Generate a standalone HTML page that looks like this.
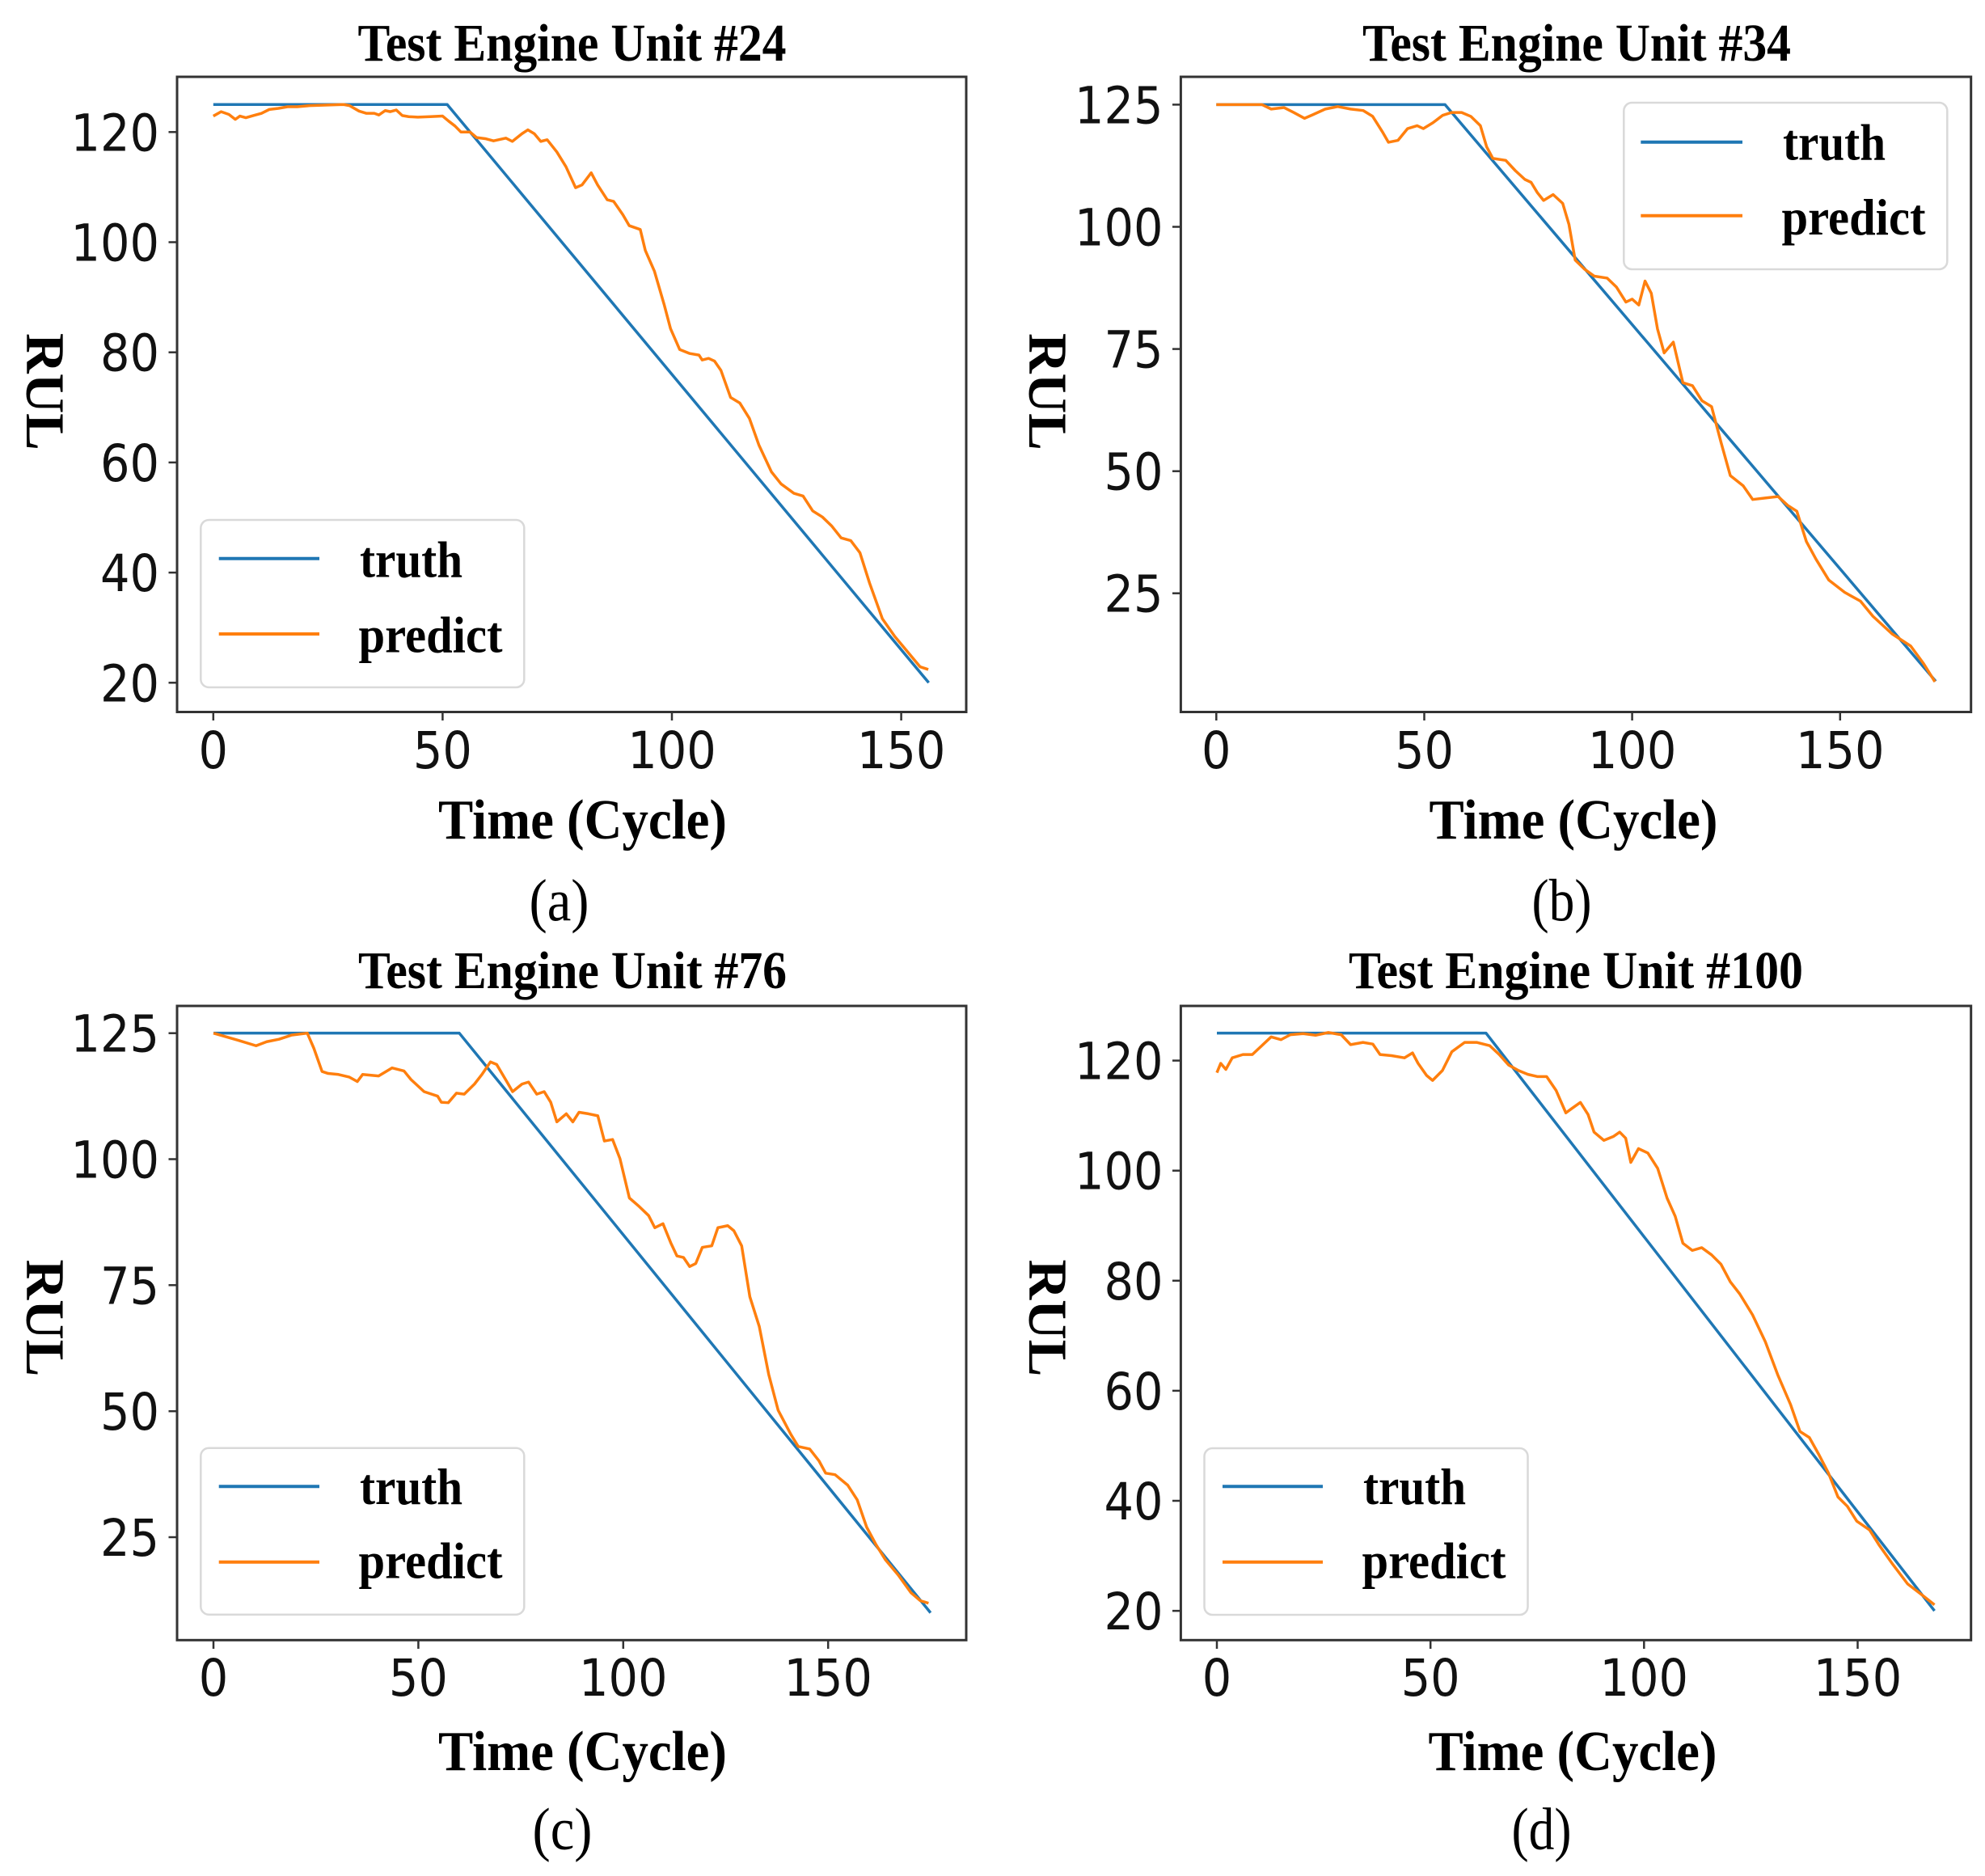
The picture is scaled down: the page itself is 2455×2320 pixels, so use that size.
<!DOCTYPE html>
<html>
<head>
<meta charset="utf-8">
<style>
html,body{margin:0;padding:0;background:#fff;}
svg{display:block;}
.tk{font-family:"DejaVu Sans","Liberation Sans",sans-serif;font-size:63px;fill:#111;}
.tt{font-family:"Liberation Serif",serif;font-weight:bold;font-size:66px;fill:#000;}
.xl{font-family:"Liberation Serif",serif;font-weight:bold;font-size:70px;fill:#000;}
.yl{font-family:"Liberation Serif",serif;font-weight:bold;font-size:68px;fill:#000;}
.sub{font-family:"Liberation Serif",serif;font-size:74px;fill:#000;}
.lg{font-family:"Liberation Serif",serif;font-weight:bold;font-size:64px;fill:#000;}
.sp{fill:none;stroke:#333;stroke-width:3;}
.tick{stroke:#333;stroke-width:2.5;}
.tr{fill:none;stroke:#1f77b4;stroke-width:3.5;stroke-linejoin:round;}
.pr{fill:none;stroke:#ff7f0e;stroke-width:3.5;stroke-linejoin:round;}
.leg{fill:#fff;stroke:#d9d9d9;stroke-width:2.5;}
</style>
</head>
<body>
<svg width="2455" height="2320" viewBox="0 0 2455 2320" xmlns="http://www.w3.org/2000/svg">

<!-- ================= Panel (a) ================= -->
<text class="tt" x="707.5" y="75" text-anchor="middle" textLength="530" lengthAdjust="spacingAndGlyphs">Test Engine Unit #24</text>
<g transform="matrix(5.672 0 0 -6.81 263.8 980.5)">
<polyline class="tr" vector-effect="non-scaling-stroke" points="0,125 51,125 156,20"/>
<polyline class="pr" vector-effect="non-scaling-stroke" points="0,122.9 1.7,123.7 3.4,123.2 4.8,122.3 5.8,122.9 7.1,122.6 8.8,123 10.5,123.4 12.2,124.1 14.2,124.3 16.2,124.6 18.3,124.6 21,124.8 25,124.9 28.4,125 29.7,124.8 31.8,123.8 33.4,123.4 35.1,123.4 36.1,123.1 37.5,123.9 38.6,123.7 39.9,124 41.2,123 42.6,122.8 44.6,122.7 47.3,122.8 50,122.9 51.3,122 52.7,121.1 54,120 56,120 57.4,119 59.3,118.8 61.1,118.4 63.8,118.9 65.2,118.3 67.3,119.7 68.6,120.4 70,119.7 71.4,118.3 72.8,118.6 74.9,116.4 76.9,113.7 79,109.9 80.4,110.4 82.4,112.6 83.8,110.4 85.9,107.7 87.3,107.4 89.3,105 90.7,103 93.1,102.3 94.2,98.5 96.2,94.7 98.3,88.7 99.7,84.3 101.7,80.5 103.8,79.8 105.9,79.5 106.6,78.6 108,78.9 109.3,78.4 110.7,76.7 112.8,71.8 114.8,70.8 116.9,68 119,63.1 121.7,58.3 123.8,56.1 126.6,54.4 128.6,53.9 130.7,51.2 132.8,50.1 134.8,48.5 136.9,46.3 139,45.8 141,43.6 143.1,38.1 145.9,31.6 148.6,28.4 151.4,25.6 154.1,22.9 155.9,22.4"/>
</g>
<rect class="sp" x="219" y="95" width="976" height="785.5"/>
<g class="tick">
<line x1="263.8" y1="880.5" x2="263.8" y2="891"/><line x1="547.4" y1="880.5" x2="547.4" y2="891"/><line x1="831" y1="880.5" x2="831" y2="891"/><line x1="1114.6" y1="880.5" x2="1114.6" y2="891"/>
<line x1="208.5" y1="844.3" x2="219" y2="844.3"/><line x1="208.5" y1="708.1" x2="219" y2="708.1"/><line x1="208.5" y1="571.9" x2="219" y2="571.9"/><line x1="208.5" y1="435.7" x2="219" y2="435.7"/><line x1="208.5" y1="299.5" x2="219" y2="299.5"/><line x1="208.5" y1="163.3" x2="219" y2="163.3"/>
</g>
<g class="tk" text-anchor="middle">
<text x="263.8" y="950" textLength="36.5" lengthAdjust="spacingAndGlyphs">0</text>
<text x="547.4" y="950" textLength="73" lengthAdjust="spacingAndGlyphs">50</text>
<text x="831" y="950" textLength="109.5" lengthAdjust="spacingAndGlyphs">100</text>
<text x="1114.6" y="950" textLength="109.5" lengthAdjust="spacingAndGlyphs">150</text>
</g>
<g class="tk" text-anchor="end">
<text x="197" y="867.3" textLength="73" lengthAdjust="spacingAndGlyphs">20</text>
<text x="197" y="731.1" textLength="73" lengthAdjust="spacingAndGlyphs">40</text>
<text x="197" y="594.9" textLength="73" lengthAdjust="spacingAndGlyphs">60</text>
<text x="197" y="458.7" textLength="73" lengthAdjust="spacingAndGlyphs">80</text>
<text x="197" y="322.5" textLength="109.5" lengthAdjust="spacingAndGlyphs">100</text>
<text x="197" y="186.3" textLength="109.5" lengthAdjust="spacingAndGlyphs">120</text>
</g>
<rect class="leg" x="248.3" y="643" width="400" height="207" rx="10" ry="10"/>
<line x1="270.7" y1="690.7" x2="395" y2="690.7" stroke="#1f77b4" stroke-width="4"/>
<line x1="270.7" y1="784" x2="395" y2="784" stroke="#ff7f0e" stroke-width="4"/>
<text class="lg" x="445" y="713.3" textLength="127" lengthAdjust="spacingAndGlyphs">truth</text>
<text class="lg" x="443.5" y="806.7" textLength="178" lengthAdjust="spacingAndGlyphs">predict</text>
<text class="xl" x="720.5" y="1037" text-anchor="middle" textLength="357" lengthAdjust="spacingAndGlyphs">Time (Cycle)</text>
<text class="yl" transform="translate(33,484.5) rotate(90)" x="0" y="0" text-anchor="middle" textLength="145" lengthAdjust="spacingAndGlyphs">RUL</text>
<text class="sub" x="691.5" y="1138.5" text-anchor="middle" textLength="74" lengthAdjust="spacingAndGlyphs">(a)</text>

<!-- ================= Panel (b) ================= -->
<text class="tt" x="1950" y="75" text-anchor="middle" textLength="530" lengthAdjust="spacingAndGlyphs">Test Engine Unit #34</text>
<g transform="matrix(5.143 0 0 -6.043 1504.3 884.8)">
<polyline class="tr" vector-effect="non-scaling-stroke" points="0,125 55,125 173,7"/>
<polyline class="pr" vector-effect="non-scaling-stroke" points="0,125 11,125 13.2,124.1 16.3,124.4 18.6,123.4 21.2,122.2 23.1,122.9 26.2,124.1 29.2,124.6 32.3,124.1 35.3,123.8 37.6,122.6 39.9,119.5 41.4,117.3 43.7,117.7 46,120.1 48.3,120.7 49.8,120.1 52.1,121.3 54.4,122.8 56.6,123.4 59,123.4 61.2,122.6 63.5,120.7 65,116.4 66.5,114 69.6,113.6 71.9,111.5 74.2,109.7 75.7,109.1 77.2,107 78.7,105.4 81,106.6 83.3,104.8 84.8,100.5 86.3,93.2 88.6,91.3 90.9,89.9 94,89.5 96.2,87.7 98.5,84.6 100,85.2 101.6,84 103.1,88.9 104.6,86.4 106.1,79.1 107.7,74.2 109.9,76.4 112.2,68.1 114.5,67.5 116.8,64.4 119.1,63.2 121.4,55.8 123.6,49.1 126.7,47 129,44.2 132,44.5 135.1,44.8 137.4,43 139.6,41.8 141.9,35.6 144.2,32 147.3,27.7 151.1,25.2 154.9,23.4 157.9,20.3 162.5,16.7 167,14.2 170.1,10.6 172.8,6.9"/>
</g>
<rect class="sp" x="1460.4" y="95" width="977.3" height="785.5"/>
<g class="tick">
<line x1="1504.3" y1="880.5" x2="1504.3" y2="891"/><line x1="1761.5" y1="880.5" x2="1761.5" y2="891"/><line x1="2018.6" y1="880.5" x2="2018.6" y2="891"/><line x1="2275.8" y1="880.5" x2="2275.8" y2="891"/>
<line x1="1450" y1="733.7" x2="1460.4" y2="733.7"/><line x1="1450" y1="582.7" x2="1460.4" y2="582.7"/><line x1="1450" y1="431.6" x2="1460.4" y2="431.6"/><line x1="1450" y1="280.5" x2="1460.4" y2="280.5"/><line x1="1450" y1="129.4" x2="1460.4" y2="129.4"/>
</g>
<g class="tk" text-anchor="middle">
<text x="1504.3" y="950" textLength="36.5" lengthAdjust="spacingAndGlyphs">0</text>
<text x="1761.5" y="950" textLength="73" lengthAdjust="spacingAndGlyphs">50</text>
<text x="2018.6" y="950" textLength="109.5" lengthAdjust="spacingAndGlyphs">100</text>
<text x="2275.8" y="950" textLength="109.5" lengthAdjust="spacingAndGlyphs">150</text>
</g>
<g class="tk" text-anchor="end">
<text x="1438.5" y="756.7" textLength="73" lengthAdjust="spacingAndGlyphs">25</text>
<text x="1438.5" y="605.7" textLength="73" lengthAdjust="spacingAndGlyphs">50</text>
<text x="1438.5" y="454.6" textLength="73" lengthAdjust="spacingAndGlyphs">75</text>
<text x="1438.5" y="303.5" textLength="109.5" lengthAdjust="spacingAndGlyphs">100</text>
<text x="1438.5" y="152.4" textLength="109.5" lengthAdjust="spacingAndGlyphs">125</text>
</g>
<rect class="leg" x="2008.3" y="127" width="400" height="206" rx="10" ry="10"/>
<line x1="2029.3" y1="175.7" x2="2155" y2="175.7" stroke="#1f77b4" stroke-width="4"/>
<line x1="2029.3" y1="266.7" x2="2155" y2="266.7" stroke="#ff7f0e" stroke-width="4"/>
<text class="lg" x="2205" y="197.3" textLength="127" lengthAdjust="spacingAndGlyphs">truth</text>
<text class="lg" x="2203.5" y="290" textLength="178" lengthAdjust="spacingAndGlyphs">predict</text>
<text class="xl" x="1946" y="1037" text-anchor="middle" textLength="357" lengthAdjust="spacingAndGlyphs">Time (Cycle)</text>
<text class="yl" transform="translate(1273,484.5) rotate(90)" x="0" y="0" text-anchor="middle" textLength="145" lengthAdjust="spacingAndGlyphs">RUL</text>
<text class="sub" x="1931.5" y="1138.5" text-anchor="middle" textLength="74" lengthAdjust="spacingAndGlyphs">(b)</text>

<!-- ================= Panel (c) ================= -->
<text class="tt" x="708" y="1222" text-anchor="middle" textLength="530" lengthAdjust="spacingAndGlyphs">Test Engine Unit #76</text>
<g transform="matrix(5.068 0 0 -6.233 264 2056.8)">
<polyline class="tr" vector-effect="non-scaling-stroke" points="0,125 60,125 175,10"/>
<polyline class="pr" vector-effect="non-scaling-stroke" points="0,125 3,124.3 6,123.6 10.4,122.5 13,123.3 16,123.8 19,124.6 22.9,125 24.5,122 26.5,117.4 28,117 30.5,116.8 33.1,116.3 35.1,115.4 36.4,116.8 40.3,116.5 43.6,118.1 46.5,117.5 48.2,115.8 51.4,113.4 54.7,112.5 55.6,111.3 57.3,111.2 59.3,113.1 61.2,112.9 63.7,114.9 65.6,116.9 67.6,119.3 69.1,118.8 71.5,115.5 73,113.4 75.3,114.9 76.9,115.3 78.9,112.9 80.7,113.4 82.3,111.3 83.8,107.4 86.1,109 87.7,107.4 89.2,109.3 91.5,109 93.8,108.6 95.4,103.6 97.4,103.9 99.2,100.1 101.5,92.3 103.9,90.6 106.2,88.8 107.7,86.4 109.7,87.2 111.6,83.4 113.1,80.8 114.7,80.5 116.2,78.7 117.7,79.3 119.3,82.5 121.6,82.8 123.1,86.4 125.5,86.8 127,85.8 128.9,82.8 130.9,72.7 133.2,66.8 135.5,57.3 137.8,50.2 140.9,45.4 142.7,43 145.5,42.5 147.8,40.1 149.4,37.7 151.7,37.4 154.8,35.3 157.1,32.4 159.4,27 161.7,23.5 164,20.5 167.1,17.5 170.2,14 172.5,12.4 174.5,11.9"/>
</g>
<rect class="sp" x="219" y="1244" width="976" height="784.3"/>
<g class="tick">
<line x1="264" y1="2028.3" x2="264" y2="2039"/><line x1="517.4" y1="2028.3" x2="517.4" y2="2039"/><line x1="770.8" y1="2028.3" x2="770.8" y2="2039"/><line x1="1024.2" y1="2028.3" x2="1024.2" y2="2039"/>
<line x1="208.5" y1="1901" x2="219" y2="1901"/><line x1="208.5" y1="1745.2" x2="219" y2="1745.2"/><line x1="208.5" y1="1589.3" x2="219" y2="1589.3"/><line x1="208.5" y1="1433.5" x2="219" y2="1433.5"/><line x1="208.5" y1="1277.7" x2="219" y2="1277.7"/>
</g>
<g class="tk" text-anchor="middle">
<text x="264" y="2097" textLength="36.5" lengthAdjust="spacingAndGlyphs">0</text>
<text x="517.4" y="2097" textLength="73" lengthAdjust="spacingAndGlyphs">50</text>
<text x="770.8" y="2097" textLength="109.5" lengthAdjust="spacingAndGlyphs">100</text>
<text x="1024.2" y="2097" textLength="109.5" lengthAdjust="spacingAndGlyphs">150</text>
</g>
<g class="tk" text-anchor="end">
<text x="197" y="1924" textLength="73" lengthAdjust="spacingAndGlyphs">25</text>
<text x="197" y="1768.2" textLength="73" lengthAdjust="spacingAndGlyphs">50</text>
<text x="197" y="1612.3" textLength="73" lengthAdjust="spacingAndGlyphs">75</text>
<text x="197" y="1456.5" textLength="109.5" lengthAdjust="spacingAndGlyphs">100</text>
<text x="197" y="1300.7" textLength="109.5" lengthAdjust="spacingAndGlyphs">125</text>
</g>
<rect class="leg" x="248.3" y="1790.7" width="400" height="206" rx="10" ry="10"/>
<line x1="270.7" y1="1838.3" x2="395" y2="1838.3" stroke="#1f77b4" stroke-width="4"/>
<line x1="270.7" y1="1931.7" x2="395" y2="1931.7" stroke="#ff7f0e" stroke-width="4"/>
<text class="lg" x="445" y="1860" textLength="127" lengthAdjust="spacingAndGlyphs">truth</text>
<text class="lg" x="443.5" y="1951.7" textLength="178" lengthAdjust="spacingAndGlyphs">predict</text>
<text class="xl" x="720.5" y="2189" text-anchor="middle" textLength="357" lengthAdjust="spacingAndGlyphs">Time (Cycle)</text>
<text class="yl" transform="translate(33,1630) rotate(90)" x="0" y="0" text-anchor="middle" textLength="145" lengthAdjust="spacingAndGlyphs">RUL</text>
<text class="sub" x="695.5" y="2287" text-anchor="middle" textLength="74" lengthAdjust="spacingAndGlyphs">(c)</text>

<!-- ================= Panel (d) ================= -->
<text class="tt" x="1949" y="1222" text-anchor="middle" textLength="562" lengthAdjust="spacingAndGlyphs">Test Engine Unit #100</text>
<g transform="matrix(5.283 0 0 -6.805 1505 2128.2)">
<polyline class="tr" vector-effect="non-scaling-stroke" points="0,125 63,125 168,20"/>
<polyline class="pr" vector-effect="non-scaling-stroke" points="0,117.8 0.9,119.5 2.1,118.4 3.6,120.5 6.1,121.1 8.3,121.1 10.5,122.7 12.7,124.3 15,123.8 17.2,124.7 20.2,124.9 23.1,124.6 26.1,125.1 29.1,124.7 31.3,122.9 34.2,123.3 36.5,123 38.2,121.1 40.9,120.9 43.9,120.5 45.8,121.4 47.1,119.5 49.1,117.3 50.5,116.4 52.8,118.2 55,121.6 58,123.3 60.9,123.3 63.9,122.7 66.1,121.1 68.3,119.2 70.6,118.2 72.8,117.5 75,117.1 77.2,117.1 79.4,114.6 81.7,110.5 83.1,111.3 85.1,112.4 86.9,110.2 88.3,107 90.6,105.5 92.8,106.2 94.3,107 95.7,105.9 96.9,101.5 98.7,104 100.9,103.2 103.2,100.4 105.4,95 107.3,91.7 109.1,86.8 111.3,85.5 113.5,86 115.8,84.7 118,83 120.2,79.8 122.4,77.6 125.4,73.8 128.4,68.9 131.3,62.9 134.3,57.5 136.5,52.6 138.7,51.5 141,48.3 143.2,45 145.4,40.7 147.6,39 149.8,36.3 152.8,34.7 155,32 158,28.7 161.7,24.9 165.4,22.7 168,21.1"/>
</g>
<rect class="sp" x="1460.4" y="1244" width="977.3" height="784.3"/>
<g class="tick">
<line x1="1505" y1="2028.3" x2="1505" y2="2039"/><line x1="1769.2" y1="2028.3" x2="1769.2" y2="2039"/><line x1="2033.3" y1="2028.3" x2="2033.3" y2="2039"/><line x1="2297.5" y1="2028.3" x2="2297.5" y2="2039"/>
<line x1="1450" y1="1992.1" x2="1460.4" y2="1992.1"/><line x1="1450" y1="1856" x2="1460.4" y2="1856"/><line x1="1450" y1="1719.9" x2="1460.4" y2="1719.9"/><line x1="1450" y1="1583.8" x2="1460.4" y2="1583.8"/><line x1="1450" y1="1447.7" x2="1460.4" y2="1447.7"/><line x1="1450" y1="1311.6" x2="1460.4" y2="1311.6"/>
</g>
<g class="tk" text-anchor="middle">
<text x="1505" y="2097" textLength="36.5" lengthAdjust="spacingAndGlyphs">0</text>
<text x="1769.2" y="2097" textLength="73" lengthAdjust="spacingAndGlyphs">50</text>
<text x="2033.3" y="2097" textLength="109.5" lengthAdjust="spacingAndGlyphs">100</text>
<text x="2297.5" y="2097" textLength="109.5" lengthAdjust="spacingAndGlyphs">150</text>
</g>
<g class="tk" text-anchor="end">
<text x="1438.5" y="2015.1" textLength="73" lengthAdjust="spacingAndGlyphs">20</text>
<text x="1438.5" y="1879" textLength="73" lengthAdjust="spacingAndGlyphs">40</text>
<text x="1438.5" y="1742.9" textLength="73" lengthAdjust="spacingAndGlyphs">60</text>
<text x="1438.5" y="1606.8" textLength="73" lengthAdjust="spacingAndGlyphs">80</text>
<text x="1438.5" y="1470.7" textLength="109.5" lengthAdjust="spacingAndGlyphs">100</text>
<text x="1438.5" y="1334.6" textLength="109.5" lengthAdjust="spacingAndGlyphs">120</text>
</g>
<rect class="leg" x="1489.5" y="1791" width="400" height="206" rx="10" ry="10"/>
<line x1="1512" y1="1838.3" x2="1636" y2="1838.3" stroke="#1f77b4" stroke-width="4"/>
<line x1="1512" y1="1931.7" x2="1636" y2="1931.7" stroke="#ff7f0e" stroke-width="4"/>
<text class="lg" x="1686" y="1860" textLength="127" lengthAdjust="spacingAndGlyphs">truth</text>
<text class="lg" x="1684.5" y="1951.7" textLength="178" lengthAdjust="spacingAndGlyphs">predict</text>
<text class="xl" x="1945" y="2189" text-anchor="middle" textLength="357" lengthAdjust="spacingAndGlyphs">Time (Cycle)</text>
<text class="yl" transform="translate(1273,1630) rotate(90)" x="0" y="0" text-anchor="middle" textLength="145" lengthAdjust="spacingAndGlyphs">RUL</text>
<text class="sub" x="1906.5" y="2287" text-anchor="middle" textLength="74" lengthAdjust="spacingAndGlyphs">(d)</text>

</svg>
</body>
</html>
